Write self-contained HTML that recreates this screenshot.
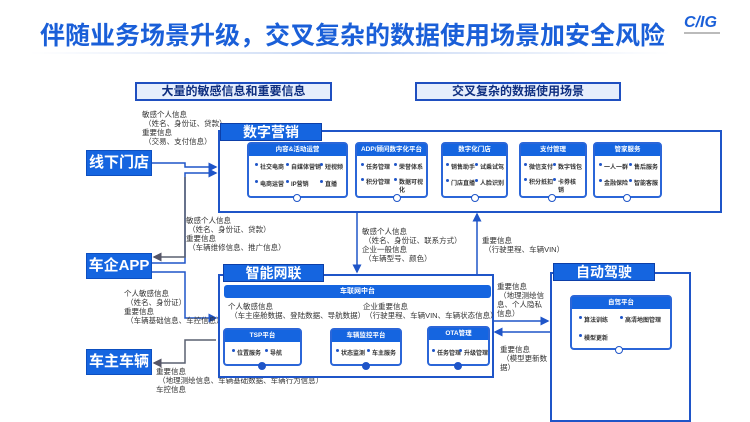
<!DOCTYPE html>
<html><head><meta charset="utf-8"><style>
*{margin:0;padding:0;box-sizing:border-box}
body{width:750px;height:417px;background:#fff;position:relative;overflow:hidden;font-family:"Liberation Sans","Noto Sans CJK SC",sans-serif;color:#333}
.a{position:absolute}
.title{left:40px;top:16px;font-size:25px;font-weight:bold;color:#1a5fd8;white-space:nowrap}
.hdr{border:2px solid #1f4fc0;background:#e6eefc;color:#0f2f80;font-weight:bold;font-size:12px;text-align:center;line-height:15px}
.lb{background:#1565e0;color:#fff;font-weight:bold;font-size:15px;text-align:center;border:1px solid #0d4fc0}
.cont{border:2px solid #1f55c8;background:#fff}
.tab{background:#1565e0;color:#fff;font-weight:bold;font-size:14px;text-align:center;line-height:17px;border:1px solid #0d3fa8}
.card{border:2px solid #2b66d8;border-radius:4px;background:#fff}
.ch{background:#1565e0;color:#fff;font-size:6.5px;font-weight:bold;text-align:center;line-height:12px;height:12px;white-space:nowrap;overflow:hidden}
.it{position:absolute;font-size:6px;font-weight:bold;color:#333;white-space:nowrap;line-height:8px}
.it:before{content:"";position:absolute;left:-5px;top:-1px;width:3px;height:3px;border-radius:50%;background:#1f55c8}
.t{position:absolute;font-size:7.5px;line-height:9px;color:#333;white-space:nowrap}
.circ{position:absolute;width:8px;height:8px;border-radius:50%;border:1.5px solid #1f55c8;background:#fff}
</style></head><body>
<div class="a title">伴随业务场景升级，交叉复杂的数据使用场景加安全风险</div>
<div class="a" style="left:30px;top:52px;width:640px;height:2px;background:linear-gradient(90deg,#fff,#c8d8f4,#fff)"></div>
<div class="a" style="left:684px;top:14px;font-size:16px;font-weight:bold;color:#1a5fd8;font-style:italic">C/IG</div>
<div class="a" style="left:684px;top:32px;width:36px;height:2px;background:#bbb"></div>

<div class="a hdr" style="left:135px;top:82px;width:197px;height:19px">大量的敏感信息和重要信息</div>
<div class="a hdr" style="left:415px;top:82px;width:206px;height:19px">交叉复杂的数据使用场景</div>

<div class="a lb" style="left:86px;top:150px;width:66px;height:26px;line-height:24px">线下门店</div>
<div class="a lb" style="left:86px;top:253px;width:66px;height:26px;line-height:24px">车企APP</div>
<div class="a lb" style="left:86px;top:349px;width:66px;height:26px;line-height:24px">车主车辆</div>

<svg class="a" style="left:0;top:0" width="750" height="417">
<defs><marker id="m" markerWidth="6" markerHeight="6" refX="5" refY="3" orient="auto"><path d="M0,0L6,3L0,6z" fill="#1f55c8"/></marker>
<marker id="g" markerWidth="6" markerHeight="6" refX="5" refY="3" orient="auto"><path d="M0,0L6,3L0,6z" fill="#556"/></marker></defs>
<g fill="none" stroke-width="1.5">
<path d="M152,163H185V167H216" stroke="#1f55c8" marker-end="url(#m)"/>
<path d="M152,263H185V173H216" stroke="#1f55c8" marker-end="url(#m)"/>
<path d="M185,177V257H154" stroke="#5a6070" marker-end="url(#g)"/>
<path d="M152,272H185V318H216" stroke="#1f55c8" marker-end="url(#m)"/>
<path d="M216,340H185V363H154" stroke="#5a6070" marker-end="url(#g)"/>
<path d="M357,212V272" stroke="#1f55c8" marker-end="url(#m)"/>
<path d="M477,274V214" stroke="#1f55c8" marker-end="url(#m)"/>
<path d="M493,321H548" stroke="#1f55c8" marker-end="url(#m)"/>
<path d="M550,332H495" stroke="#1f55c8" marker-end="url(#m)"/>
</g></svg>

<div class="t" style="left:142px;top:110px">敏感个人信息<br>&nbsp;（姓名、身份证、贷款）<br>重要信息<br>&nbsp;（交易、支付信息）</div>
<div class="t" style="left:186px;top:216px">敏感个人信息<br>&nbsp;（姓名、身份证、贷款）<br>重要信息<br>&nbsp;（车辆维修信息、推广信息）</div>
<div class="t" style="left:124px;top:289px">个人敏感信息<br>&nbsp;（姓名、身份证）<br>重要信息<br>&nbsp;（车辆基础信息、车控信息）</div>
<div class="t" style="left:156px;top:367px">重要信息<br>&nbsp;（地理测绘信息、车辆基础数据、车辆行为信息）<br>车控信息</div>
<div class="t" style="left:362px;top:227px">敏感个人信息<br>&nbsp;（姓名、身份证、联系方式）<br>企业一般信息<br>&nbsp;（车辆型号、颜色）</div>
<div class="t" style="left:482px;top:236px">重要信息<br>&nbsp;（行驶里程、车辆VIN）</div>
<div class="t" style="left:497px;top:282px">重要信息<br>&nbsp;（地理测绘信<br>息、个人隐私<br>信息）</div>
<div class="t" style="left:500px;top:345px">重要信息<br>&nbsp;（模型更新数<br>据）</div>

<div class="a cont" style="left:218px;top:130px;width:504px;height:83px"></div>
<div class="a tab" style="left:220px;top:123px;width:102px;height:18px">数字营销</div>
<div class="a card" style="left:247px;top:142px;width:101px;height:56px"><div class="ch">内容&amp;活动运营</div>
<span class="it" style="left:11px;top:20px">社交电商</span><span class="it" style="left:42px;top:20px">自媒体营销</span><span class="it" style="left:76px;top:20px">短视频</span>
<span class="it" style="left:11px;top:37px">电商运营</span><span class="it" style="left:42px;top:37px">IP营销</span><span class="it" style="left:76px;top:37px">直播</span></div>
<div class="a card" style="left:355px;top:142px;width:73px;height:56px"><div class="ch">ADP/顾问数字化平台</div>
<span class="it" style="left:9px;top:20px">任务管理</span><span class="it" style="left:42px;top:20px">荣誉体系</span>
<span class="it" style="left:9px;top:35px">积分管理</span><span class="it" style="left:42px;top:35px">数据可视<br>化</span></div>
<div class="a card" style="left:441px;top:142px;width:67px;height:56px"><div class="ch">数字化门店</div>
<span class="it" style="left:8px;top:20px">销售助手</span><span class="it" style="left:37px;top:20px">试乘试驾</span>
<span class="it" style="left:8px;top:36px">门店直播</span><span class="it" style="left:37px;top:36px">人脸识别</span></div>
<div class="a card" style="left:519px;top:142px;width:68px;height:56px"><div class="ch">支付管理</div>
<span class="it" style="left:8px;top:20px">微信支付</span><span class="it" style="left:37px;top:20px">数字钱包</span>
<span class="it" style="left:8px;top:35px">积分抵扣</span><span class="it" style="left:37px;top:35px">卡券核<br>销</span></div>
<div class="a card" style="left:593px;top:142px;width:69px;height:56px"><div class="ch">管家服务</div>
<span class="it" style="left:9px;top:20px">一人一群</span><span class="it" style="left:39px;top:20px">售后服务</span>
<span class="it" style="left:9px;top:36px">金融保险</span><span class="it" style="left:39px;top:36px">智能客服</span></div>
<div class="circ" style="left:293px;top:194px"></div><div class="circ" style="left:393px;top:194px"></div><div class="circ" style="left:471px;top:194px"></div><div class="circ" style="left:548px;top:194px"></div><div class="circ" style="left:623px;top:194px"></div>

<div class="a cont" style="left:218px;top:274px;width:276px;height:104px"></div>
<div class="a tab" style="left:223px;top:264px;width:101px;height:18px">智能网联</div>
<div class="a" style="left:224px;top:285px;width:267px;height:13px;background:#1565e0;border-radius:3px;color:#fff;font-size:7px;font-weight:bold;text-align:center;line-height:13px">车联网中台</div>
<div class="t" style="left:228px;top:302px">个人敏感信息<br>&nbsp;（车主座舱数据、登陆数据、导航数据）</div>
<div class="t" style="left:363px;top:302px">企业重要信息<br>&nbsp;（行驶里程、车辆VIN、车辆状态信息）</div>
<div class="a card" style="left:223px;top:328px;width:79px;height:38px"><div class="ch">TSP平台</div>
<span class="it" style="left:12px;top:20px">位置服务</span><span class="it" style="left:45px;top:20px">导航</span></div>
<div class="a card" style="left:330px;top:328px;width:72px;height:38px"><div class="ch">车辆监控平台</div>
<span class="it" style="left:9px;top:20px">状态监测</span><span class="it" style="left:40px;top:20px">车主服务</span></div>
<div class="a card" style="left:427px;top:326px;width:63px;height:40px"><div class="ch">OTA管理</div>
<span class="it" style="left:8px;top:22px">任务管理</span><span class="it" style="left:35px;top:22px">升级管理</span></div>
<div class="circ" style="left:258px;top:362px;background:#1f55c8"></div><div class="circ" style="left:362px;top:362px;background:#1f55c8"></div><div class="circ" style="left:454px;top:362px;background:#1f55c8"></div>

<div class="a cont" style="left:550px;top:272px;width:141px;height:150px"></div>
<div class="a tab" style="left:553px;top:263px;width:102px;height:18px">自动驾驶</div>
<div class="a card" style="left:570px;top:295px;width:102px;height:55px"><div class="ch">自驾平台</div>
<span class="it" style="left:12px;top:20px">算法训练</span><span class="it" style="left:53px;top:20px">高清地图管理</span>
<span class="it" style="left:12px;top:38px">模型更新</span></div>
<div class="circ" style="left:615px;top:346px"></div>
</body></html>
